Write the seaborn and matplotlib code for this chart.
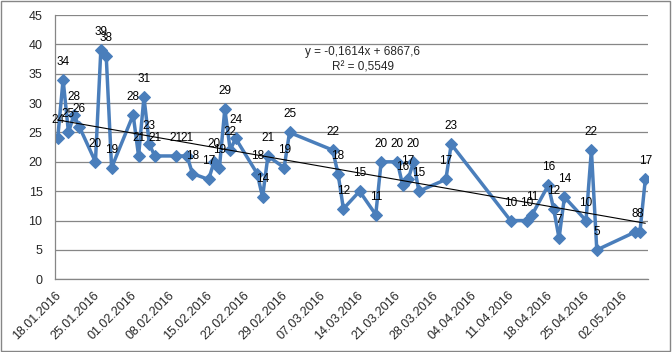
import numpy as np
import pandas as pd
import matplotlib
matplotlib.use("Agg")
from matplotlib import pyplot as plt
import matplotlib.dates as mdates
import seaborn as sns

# data (dd.mm.yyyy)
dates = ['18.01.2016', '19.01.2016', '20.01.2016', '21.01.2016', '22.01.2016',
         '25.01.2016', '26.01.2016', '27.01.2016', '28.01.2016',
         '01.02.2016', '02.02.2016', '03.02.2016', '04.02.2016', '05.02.2016',
         '09.02.2016', '11.02.2016', '12.02.2016',
         '15.02.2016', '16.02.2016', '17.02.2016', '18.02.2016', '19.02.2016', '20.02.2016',
         '24.02.2016', '25.02.2016', '26.02.2016', '29.02.2016', '01.03.2016',
         '09.03.2016', '10.03.2016', '11.03.2016', '14.03.2016', '17.03.2016', '18.03.2016',
         '21.03.2016', '22.03.2016', '23.03.2016', '24.03.2016', '25.03.2016',
         '30.03.2016', '31.03.2016', '11.04.2016', '14.04.2016', '15.04.2016',
         '18.04.2016', '19.04.2016', '20.04.2016', '21.04.2016',
         '25.04.2016', '26.04.2016', '27.04.2016', '04.05.2016', '05.05.2016', '06.05.2016']
values = [24, 34, 25, 28, 26,
          20, 39, 38, 19,
          28, 21, 31, 23, 21,
          21, 21, 18,
          17, 20, 19, 29, 22, 24,
          18, 14, 21, 19, 25,
          22, 18, 12, 15, 11, 20,
          20, 16, 17, 20, 15,
          17, 23, 10, 10, 11,
          16, 12, 7, 14,
          10, 22, 5, 8, 8, 17]
eq_text = 'y = -0,1614x + 6867,6'
r2_text = 'R² = 0,5549'

sns.set_style("white")
plt.rcParams['font.family'] = ['Liberation Sans', 'DejaVu Sans']

df = pd.DataFrame({'date': pd.to_datetime(dates, format='%d.%m.%Y'), 'value': values})
# excel date axis puts points in the middle of each day slot
df['x'] = mdates.date2num(df['date'] + pd.Timedelta(hours=12))

blue = '#4A7EBB'
grey = '#868686'

fig = plt.figure(figsize=(6.72, 3.52), dpi=100)
ax = fig.add_axes([55 / 672, 72.7 / 352, 593 / 672, 264.3 / 352])

sns.lineplot(data=df, x='x', y='value', ax=ax, color=blue, lw=2.5,
             marker='D', markersize=6, markeredgecolor=blue, markerfacecolor=blue)
sns.regplot(data=df, x='x', y='value', ax=ax, scatter=False, ci=None, truncate=True,
            line_kws=dict(color='black', lw=0.8))

for xv, yv in zip(df['x'], df['value']):
    ax.annotate(str(yv), (xv, yv), xytext=(0, 13), textcoords='offset points',
                ha='center', va='center', fontsize=8.5, color='black')

start = mdates.date2num(pd.Timestamp('2016-01-18'))
ax.set_xlim(start, start + 110)
ax.set_ylim(0, 45)
ax.set_yticks(range(0, 46, 5))
ax.set_xticks([start + 7 * i for i in range(16)])
ax.xaxis.set_major_formatter(mdates.DateFormatter('%d.%m.%Y'))
plt.setp(ax.get_xticklabels(), rotation=45, ha='right', rotation_mode='anchor')
ax.tick_params(axis='both', direction='out', length=4, color=grey, labelsize=9, pad=4)
ax.tick_params(axis='y', pad=5)
ax.tick_params(axis='x', pad=3)
ax.set_xlabel('')
ax.set_ylabel('')

ax.grid(axis='y', color=grey, lw=0.9)
ax.set_axisbelow(True)
for s in ['top', 'right']:
    ax.spines[s].set_visible(False)
for s in ['left', 'bottom']:
    ax.spines[s].set_color(grey)
    ax.spines[s].set_linewidth(0.9)

ax.text(0.519, 0.86, eq_text, transform=ax.transAxes, ha='center', va='center', fontsize=8.5)
ax.text(0.519, 0.803, r2_text, transform=ax.transAxes, ha='center', va='center', fontsize=8.5)

fig.patches.append(plt.Rectangle((0.0015, 0.003), 0.996, 0.994, transform=fig.transFigure,
                                 fill=False, edgecolor=grey, lw=1))

fig.savefig('out.png', dpi=100)
